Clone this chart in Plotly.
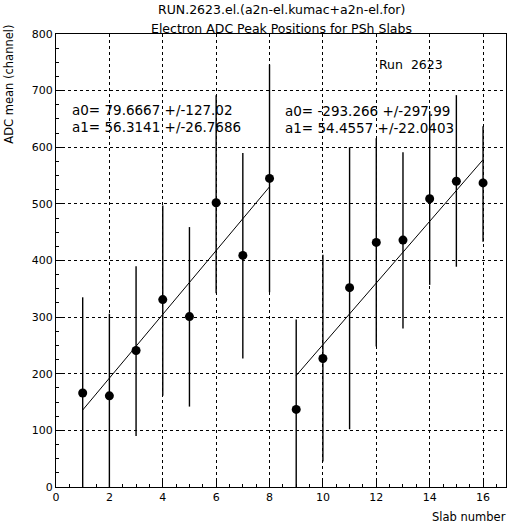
import plotly.graph_objects as go

# ---- data ----
slab = [1, 2, 3, 4, 5, 6, 7, 8, 9, 10, 11, 12, 13, 14, 15, 16]
adc_mean = [166, 161, 241, 331, 301, 502, 409, 545, 137, 227, 352, 432, 436, 509, 540, 537]
err_plus = [169, 145, 149, 166, 158, 190, 181, 201, 159, 183, 248, 184, 155, 155, 152, 100]
err_minus = [168, 165, 151, 170, 159, 160, 182, 201, 159, 182, 250, 184, 156, 152, 151, 104]

fit_a0 = [79.6667, -293.266]
fit_a1 = [56.3141, 54.4557]
fit_a0_err = [127.02, 297.99]
fit_a1_err = [26.7686, 22.0403]
fit_xrange = [[1, 8], [9, 16]]

x_ticks = list(range(0, 17, 2))
y_ticks = list(range(0, 801, 100))

FONT = "DejaVu Sans"

fig = go.Figure()

fig.add_trace(go.Scatter(
    x=slab, y=adc_mean, mode="markers",
    marker=dict(color="black", size=9),
    error_y=dict(type="data", symmetric=False, array=err_plus, arrayminus=err_minus,
                 color="black", thickness=1.4, width=0),
    showlegend=False, hoverinfo="skip",
))

for a0, a1, (x0, x1) in zip(fit_a0, fit_a1, fit_xrange):
    xs = [x0, x1]
    fig.add_trace(go.Scatter(
        x=xs, y=[a0 + a1 * v for v in xs], mode="lines",
        line=dict(color="black", width=1), showlegend=False, hoverinfo="skip",
        xaxis="x2",
    ))

axis_common = dict(
    showline=True, linecolor="black", linewidth=1, mirror=True,
    ticks="inside", tickcolor="black", tickfont=dict(family=FONT, size=11, color="black"),
    zeroline=False,
)

fig.update_layout(
    width=510, height=527,
    margin=dict(l=56, r=4, t=34, b=40),
    paper_bgcolor="white", plot_bgcolor="white",
    xaxis=dict(range=[0, 16.86], tickvals=x_ticks, ticklen=6,
               showgrid=False,
               minor=dict(dtick=0.5, ticklen=3, ticks="inside", tickcolor="black", showgrid=False),
               **axis_common),
    xaxis2=dict(range=[0, 16.86], overlaying="x", tickvals=x_ticks, showgrid=True,
                gridcolor="black", griddash="dot", gridwidth=1,
                showticklabels=False, ticks="", showline=False, zeroline=False),
    yaxis=dict(range=[0, 800], tickvals=y_ticks, ticklen=6,
               showgrid=True, gridcolor="black", griddash="dot", gridwidth=1,
               minor=dict(dtick=25, ticklen=3, ticks="inside", tickcolor="black", showgrid=False),
               **axis_common),
    font=dict(family=FONT, color="black"),
)

ann = []
ann.append(dict(text="RUN.2623.el.(a2n-el.kumac+a2n-el.for)", x=0.5, y=1.053,
                xanchor="center", yanchor="middle", font=dict(size=12.5)))
ann.append(dict(text="Electron ADC Peak Positions for PSh Slabs", x=0.5, y=1.0132,
                xanchor="center", yanchor="middle", font=dict(size=12.5)))
ann.append(dict(text="ADC mean (channel)", x=-0.104, y=1.0243, textangle=-90,
                xanchor="center", yanchor="top", font=dict(size=11.5)))
ann.append(dict(text="Slab number", x=1.0044, y=-0.0662,
                xanchor="right", yanchor="middle", font=dict(size=11.5)))
ann.append(dict(text="Run  2623", x=0.7133, y=0.9316,
                xanchor="left", yanchor="middle", font=dict(size=12.5)))

text_pos = [(0.0311, 0.8322, 0.7947), (0.5044, 0.830, 0.7925)]
for (xp, y0, y1), a0, a0e, a1, a1e in zip(text_pos, fit_a0, fit_a0_err, fit_a1, fit_a1_err):
    ann.append(dict(text=f"a0= {a0:g} +/-{a0e:g}", x=xp, y=y0,
                    xanchor="left", yanchor="middle", font=dict(size=13.5)))
    ann.append(dict(text=f"a1= {a1:g} +/-{a1e:g}", x=xp, y=y1,
                    xanchor="left", yanchor="middle", font=dict(size=13.5)))

for a in ann:
    a.update(xref="paper", yref="paper", showarrow=False)
    a.setdefault("font", {})
    a["font"].update(family=FONT, color="black")
fig.update_layout(annotations=ann)

fig.write_html("out.html")
